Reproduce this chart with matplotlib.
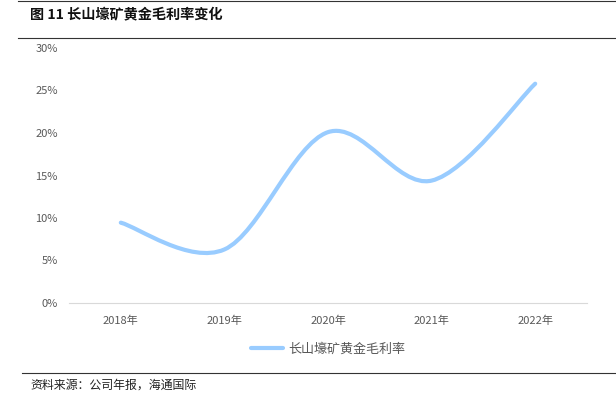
import matplotlib
matplotlib.use("Agg")
import matplotlib.pyplot as plt
from matplotlib.path import Path
from matplotlib.patches import PathPatch
import numpy as np

plt.rcParams['font.family'] = ['Noto Sans CJK SC', 'DejaVu Sans']

categories = ["2018年", "2019年", "2020年", "2021年", "2022年"]
margin = [9.45, 6.3, 20.1, 14.4, 25.8]
series_name = "长山壕矿黄金毛利率"
yticks = [0, 5, 10, 15, 20, 25, 30]

W, H = 616, 399
fig = plt.figure(figsize=(W/100, H/100), dpi=100)
ax = fig.add_axes([69/W, (H-303)/H, (587-69)/W, (303-48)/H])

x = np.arange(len(categories))
y = np.array(margin)
# Excel-like smoothed curve: cubic Bezier with Catmull-Rom control points
verts = [(x[0], y[0])]
codes = [Path.MOVETO]
n = len(x)
for i in range(n-1):
    p0 = np.array([x[max(i-1, 0)], y[max(i-1, 0)]])
    p1 = np.array([x[i], y[i]])
    p2 = np.array([x[i+1], y[i+1]])
    p3 = np.array([x[min(i+2, n-1)], y[min(i+2, n-1)]])
    c1 = p1 + (p2 - p0) / 6
    c2 = p2 - (p3 - p1) / 6
    verts += [tuple(c1), tuple(c2), tuple(p2)]
    codes += [Path.CURVE4] * 3
color = "#99CCFF"
ax.add_patch(PathPatch(Path(verts, codes), facecolor="none", edgecolor=color,
                       lw=3, capstyle="round", joinstyle="round"))
ax.plot([], [], color=color, lw=3, solid_capstyle="round", label=series_name)

ax.set_xlim(-0.5, n-0.5)
ax.set_ylim(0, 30)
ax.set_xticks(x)
ax.set_xticklabels(categories)
ax.set_yticks(yticks)
ax.set_yticklabels([f"{v}%" for v in yticks])
for s in ["top", "right", "left"]:
    ax.spines[s].set_visible(False)
ax.spines["bottom"].set_color("#D9D9D9")
ax.tick_params(axis="both", length=0, labelsize=8, colors="#595959")
ax.tick_params(axis="x", pad=9)
ax.tick_params(axis="y", pad=8)

leg = ax.legend(loc="upper center", bbox_to_anchor=(0.5, -0.11), frameon=False,
                fontsize=9.4, handlelength=2.4, handletextpad=0.4)
for t in leg.get_texts():
    t.set_color("#595959")

# header / footer
fig.add_artist(plt.Line2D([18/W, 1], [1-1/H, 1-1/H], color="#333333", lw=0.8))
fig.text(30/W, 1-15/H, "图 11 长山壕矿黄金毛利率变化", fontsize=10.2, fontweight="bold",
         va="center", ha="left", color="#111111")
fig.add_artist(plt.Line2D([18/W, 1], [1-38/H, 1-38/H], color="#333333", lw=0.8))
fig.add_artist(plt.Line2D([22/W, 1], [1-373/H, 1-373/H], color="#333333", lw=0.8))
fig.text(30/W, 1-385/H, "资料来源：公司年报，海通国际", fontsize=8.6, va="center", ha="left",
         color="#222222")

fig.savefig("out.png", dpi=100)
